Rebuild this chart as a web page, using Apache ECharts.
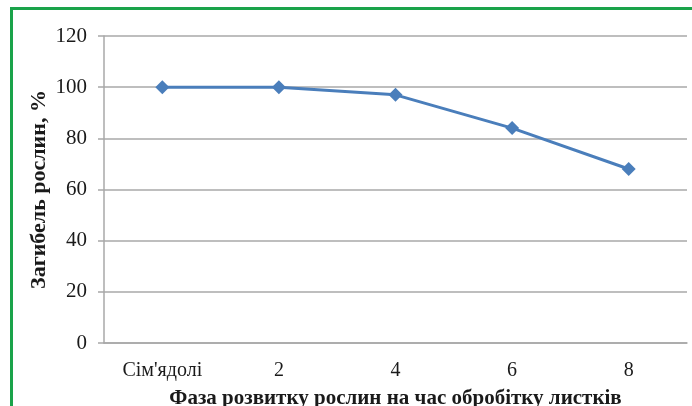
<!DOCTYPE html>
<html>
<head>
<meta charset="utf-8">
<script src="https://cdn.jsdelivr.net/npm/echarts@6/dist/echarts.min.js"></script>
<style>
html,body{margin:0;padding:0;background:#fff;}
#wrap{position:absolute;left:0;top:0;width:692px;height:406px;overflow:hidden;}
#frame{position:absolute;left:10px;top:7px;width:700px;height:420px;border-left:3px solid #1aa34a;border-top:3px solid #1aa34a;}
#chart{position:absolute;left:0;top:0;width:692px;height:406px;}
</style>
</head>
<body>
<div id="wrap">
<div id="frame"></div>
<div id="chart"></div>
</div>
<script>
const categories = ["Сім'ядолі", "2", "4", "6", "8"];
const mortality = [100, 100, 97, 84, 68];
const yTicks = [0, 20, 40, 60, 80, 100, 120];
const xTitle = "Фаза розвитку рослин на час обробітку листків";
const yTitle = "Загибель рослин, %";

const chart = echarts.init(document.getElementById('chart'));
const serif = "'Liberation Serif', 'DejaVu Serif', serif";
chart.setOption({
  animation: false,
  grid: {left: 104, right: 5, top: 36, bottom: 63, containLabel: false, outerBoundsMode: 'none'},
  xAxis: {
    type: 'category',
    data: categories,
    boundaryGap: true,
    axisLine: {show: true, lineStyle: {color: '#a8a8a8', width: 1.5}},
    axisTick: {show: false},
    axisLabel: {color: '#1a1a1a', fontFamily: serif, fontSize: 20, margin: 18},
    name: xTitle,
    nameLocation: 'middle',
    nameGap: 45,
    nameMoveOverlap: false,
    nameTextStyle: {color: '#1a1a1a', fontFamily: serif, fontSize: 21, fontWeight: 'bold'}
  },
  yAxis: {
    type: 'value',
    min: yTicks[0],
    max: yTicks[yTicks.length - 1],
    interval: yTicks[1] - yTicks[0],
    axisLine: {show: true, lineStyle: {color: '#a8a8a8', width: 1.5}},
    axisTick: {show: true, inside: false, length: 6, lineStyle: {color: '#a8a8a8', width: 1.5}},
    splitLine: {show: true, lineStyle: {color: '#a8a8a8', width: 1.5}},
    axisLabel: {color: '#1a1a1a', fontFamily: serif, fontSize: 21, margin: 17},
    name: yTitle,
    nameLocation: 'middle',
    nameGap: 54,
    nameMoveOverlap: false,
    nameRotate: 90,
    nameTextStyle: {color: '#1a1a1a', fontFamily: serif, fontSize: 22, fontWeight: 'bold'}
  },
  series: [{
    type: 'line',
    data: mortality,
    symbol: 'diamond',
    symbolSize: 14,
    itemStyle: {color: '#4a7ebb'},
    lineStyle: {color: '#4a7ebb', width: 3}
  }]
});
</script>
</body>
</html>
